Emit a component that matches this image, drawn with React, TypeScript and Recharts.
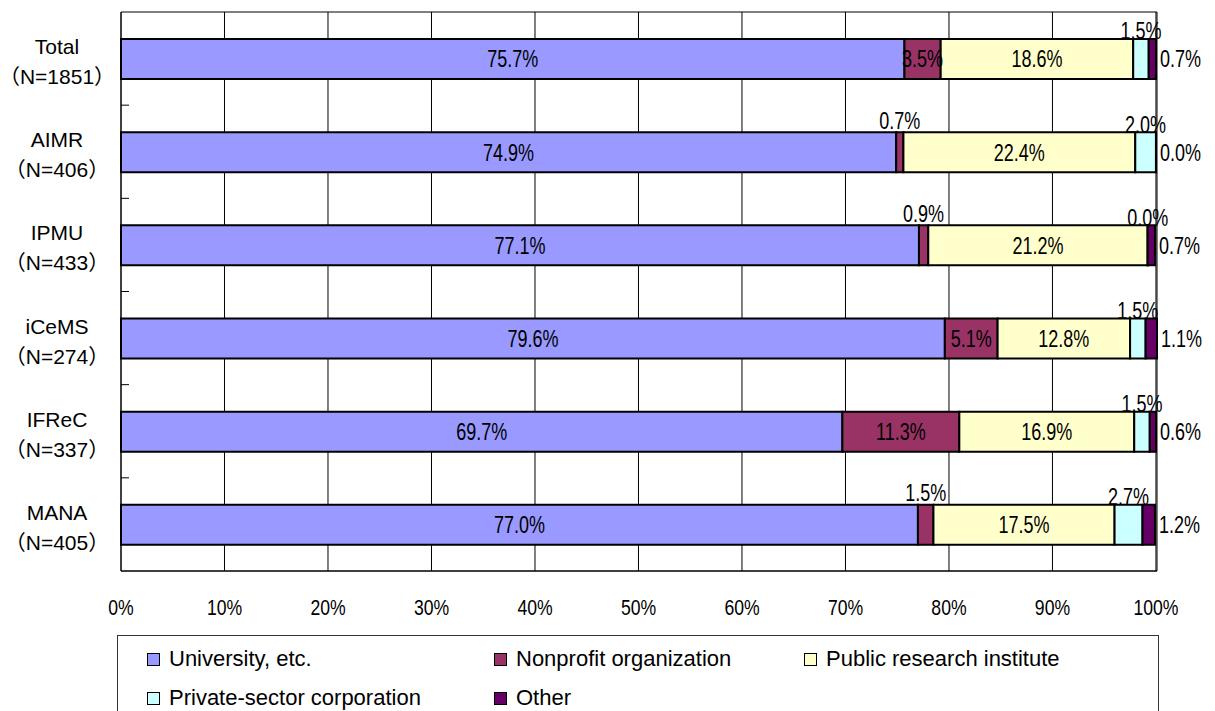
import { BarChart, Bar, XAxis, YAxis, CartesianGrid, LabelList } from 'recharts'

const categories = ['Total', 'AIMR', 'IPMU', 'iCeMS', 'IFReC', 'MANA']
const sampleSizes = [1851, 406, 433, 274, 337, 405]

const university = [75.7, 74.9, 77.1, 79.6, 69.7, 77.0]
const nonprofit = [3.5, 0.7, 0.9, 5.1, 11.3, 1.5]
const publicInst = [18.6, 22.4, 21.2, 12.8, 16.9, 17.5]
const privateCorp = [1.5, 2.0, 0.0, 1.5, 1.5, 2.7]
const other = [0.7, 0.0, 0.7, 1.1, 0.6, 1.2]

const xTicks = [0, 10, 20, 30, 40, 50, 60, 70, 80, 90, 100]

const W = 1215
const H = 711
const PLOT_LEFT = 121
const PLOT_TOP = 12
const PLOT_RIGHT = 1157
const PLOT_BOTTOM = 571
const BAND = (PLOT_BOTTOM - PLOT_TOP) / categories.length

const FONT = "'Liberation Sans', 'Noto Sans CJK JP', sans-serif"

type LabelMode = 'inside' | 'auto' | 'above' | 'right'

const series: { key: string; name: string; color: string; values: number[]; mode: LabelMode }[] = [
  { key: 'university', name: 'University, etc.', color: '#9999ff', values: university, mode: 'inside' },
  { key: 'nonprofit', name: 'Nonprofit organization', color: '#993366', values: nonprofit, mode: 'auto' },
  { key: 'publicInst', name: 'Public research institute', color: '#ffffcc', values: publicInst, mode: 'inside' },
  { key: 'privateCorp', name: 'Private-sector corporation', color: '#ccffff', values: privateCorp, mode: 'above' },
  { key: 'other', name: 'Other', color: '#660066', values: other, mode: 'right' },
]

const data = categories.map((name, i) => {
  const row: Record<string, string | number> = { name, n: sampleSizes[i] }
  series.forEach((s) => {
    row[s.key] = s.values[i]
  })
  return row
})

// the original numbers are set in a narrow face, so squeeze Liberation Sans a bit
const NarrowText = ({ x, y, anchor = 'middle', size = 24, squeeze = 0.75, children }: any) => (
  <text
    transform={`translate(${x},${y}) scale(${squeeze},1)`}
    x={0}
    y={0}
    textAnchor={anchor}
    dominantBaseline="central"
    fontFamily={FONT}
    fontSize={size}
    fill="#000"
  >
    {children}
  </text>
)

const makeLabel = (mode: LabelMode) => (props: any) => {
  const { x, y, width, height, value } = props
  const v = Number(value)
  let tx = x + width / 2
  let ty = y + height / 2
  let anchor = 'middle'
  if (mode === 'right') {
    tx = x + width + 4
    anchor = 'start'
  } else if (mode === 'above') {
    ty = y - 8
  } else if (mode === 'auto' && v < 3) {
    ty = y - 12
  }
  return (
    <NarrowText x={tx} y={ty} anchor={anchor}>
      {`${v.toFixed(1)}%`}
    </NarrowText>
  )
}

const CategoryTick = (props: any) => {
  const { y, payload, index } = props
  const n = sampleSizes[index]
  return (
    <g>
      <text x={57} y={y - 12} textAnchor="middle" dominantBaseline="central" fontFamily={FONT} fontSize={21} fill="#000">
        {payload.value}
      </text>
      <text x={57} y={y + 18} textAnchor="middle" dominantBaseline="central" fontFamily={FONT} fontSize={21} fill="#000">
        {`（N=${n}）`}
      </text>
      {index < categories.length - 1 && (
        <line x1={PLOT_LEFT} x2={PLOT_LEFT + 8} y1={y + BAND / 2} y2={y + BAND / 2} stroke="#000" strokeWidth={1} />
      )}
    </g>
  )
}

const PercentTick = (props: any) => (
  <NarrowText x={props.x} y={props.y + 8} size={22} squeeze={0.8}>
    {`${props.payload.value}%`}
  </NarrowText>
)

export default function App() {
  return (
    <div style={{ position: 'absolute', left: 0, top: 0, width: W, height: H, background: '#fff', overflow: 'hidden' }}>
      <BarChart
        width={W}
        height={H}
        data={data}
        layout="vertical"
        margin={{ top: PLOT_TOP, right: W - PLOT_RIGHT, left: 0, bottom: 80 }}
      >
        <CartesianGrid
          stroke="#000"
          strokeWidth={1}
          horizontalCoordinatesGenerator={({ offset }: any) => [offset.top, offset.top + offset.height]}
        />
        <XAxis
          type="number"
          domain={[0, 100]}
          ticks={xTicks}
          axisLine={{ stroke: '#000' }}
          tickLine={false}
          tickSize={0}
          tickMargin={28}
          height={60}
          tick={<PercentTick />}
          interval={0}
        />
        <YAxis
          type="category"
          dataKey="name"
          width={PLOT_LEFT}
          axisLine={{ stroke: '#000' }}
          tickLine={false}
          tick={<CategoryTick />}
          interval={0}
        />
        {series.map((s) => (
          <Bar
            key={s.key}
            dataKey={s.key}
            name={s.name}
            stackId="a"
            fill={s.color}
            stroke="#000"
            strokeWidth={2}
            barSize={40}
            minPointSize={0.01}
            isAnimationActive={false}
          >
            <LabelList dataKey={s.key} content={makeLabel(s.mode)} />
          </Bar>
        ))}
      </BarChart>
      <div
        style={{
          position: 'absolute',
          left: 117,
          top: 635,
          width: PLOT_RIGHT + 2 - 117,
          height: 90,
          border: '1px solid #333',
          boxSizing: 'border-box',
          fontFamily: FONT,
          fontSize: 22,
          color: '#000',
        }}
      >
        {series.map((s, i) => (
          <div
            key={s.key}
            style={{
              position: 'absolute',
              left: [29, 376, 686][i % 3],
              top: i < 3 ? 23 : 62,
              transform: 'translateY(-50%)',
              display: 'flex',
              alignItems: 'center',
              whiteSpace: 'nowrap',
            }}
          >
            <span
              style={{
                display: 'inline-block',
                width: 11,
                height: 11,
                background: s.color,
                border: '1px solid #000',
                marginRight: 9,
              }}
            />
            {s.name}
          </div>
        ))}
      </div>
    </div>
  )
}
